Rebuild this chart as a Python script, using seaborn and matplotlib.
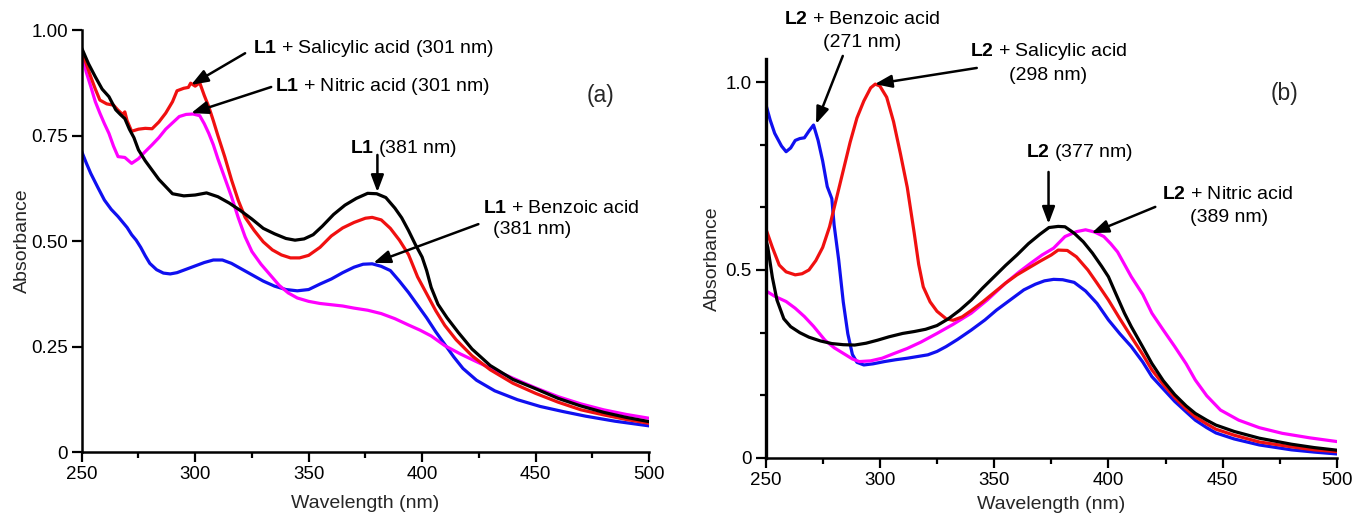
import matplotlib
matplotlib.use("Agg")
import matplotlib.pyplot as plt
from matplotlib.ticker import FixedLocator, FixedFormatter, MultipleLocator
import numpy as np
import pandas as pd
import seaborn as sns

# ---------------- panel (a): L1 spectra ----------------
wl_l1 = [250, 253, 256, 259, 262, 265, 267, 269, 271, 273, 275, 278, 281, 284, 287, 290, 295, 300,
         305, 310, 315, 320, 325, 330, 335, 340, 344, 348, 352, 356, 361, 366, 371, 376, 380, 384,
         388, 391, 394, 397, 400, 402, 404, 407, 411, 416, 422, 430, 440, 450, 460, 470, 480, 490, 500]
abs_l1 = [0.957, 0.920, 0.889, 0.860, 0.842, 0.811, 0.800, 0.790, 0.765, 0.745, 0.716, 0.690, 0.668,
          0.646, 0.629, 0.612, 0.607, 0.609, 0.614, 0.605, 0.590, 0.572, 0.552, 0.530, 0.517, 0.506,
          0.502, 0.505, 0.515, 0.535, 0.563, 0.585, 0.601, 0.613, 0.612, 0.603, 0.578, 0.555, 0.525,
          0.492, 0.462, 0.430, 0.390, 0.350, 0.318, 0.283, 0.244, 0.205, 0.172, 0.150, 0.127, 0.109,
          0.094, 0.082, 0.072]

wl_l1_sal = [250, 252, 254, 256, 258, 261, 264, 266, 268, 269, 270, 272, 275, 278, 281, 284, 287, 290,
             292, 295, 297, 298, 300, 302, 304, 306, 308, 310, 313, 316, 319, 322, 326, 330, 334, 338,
             342, 346, 350, 355, 360, 365, 370, 375, 378, 382, 386, 390, 394, 398, 402, 406, 410, 415,
             422, 430, 440, 450, 460, 470, 480, 490, 500]
abs_l1_sal = [0.952, 0.920, 0.889, 0.860, 0.834, 0.825, 0.822, 0.810, 0.800, 0.806, 0.785, 0.760, 0.765,
              0.767, 0.766, 0.782, 0.803, 0.830, 0.856, 0.862, 0.864, 0.874, 0.867, 0.875, 0.845, 0.818,
              0.785, 0.750, 0.700, 0.645, 0.596, 0.556, 0.525, 0.498, 0.479, 0.467, 0.460, 0.460, 0.466,
              0.485, 0.512, 0.531, 0.544, 0.554, 0.556, 0.550, 0.530, 0.502, 0.468, 0.415, 0.375, 0.335,
              0.300, 0.266, 0.228, 0.195, 0.163, 0.139, 0.118, 0.100, 0.088, 0.077, 0.068]

wl_l1_nit = [250, 252, 254, 256, 258, 260, 262, 264, 266, 269, 272, 275, 278, 281, 284, 287, 290, 293,
             296, 299, 302, 304, 306, 308, 310, 313, 316, 319, 322, 325, 329, 333, 337, 341, 345, 350,
             355, 360, 365, 370, 376, 382, 388, 394, 399, 404, 410, 417, 424, 432, 440, 450, 460, 470,
             480, 490, 500]
abs_l1_nit = [0.945, 0.900, 0.866, 0.830, 0.803, 0.778, 0.755, 0.725, 0.700, 0.698, 0.684, 0.695, 0.712,
              0.728, 0.745, 0.765, 0.780, 0.795, 0.800, 0.801, 0.797, 0.778, 0.755, 0.728, 0.695, 0.650,
              0.605, 0.555, 0.510, 0.475, 0.445, 0.420, 0.395, 0.377, 0.365, 0.357, 0.352, 0.349, 0.346,
              0.341, 0.336, 0.328, 0.316, 0.301, 0.289, 0.275, 0.252, 0.232, 0.214, 0.194, 0.175, 0.152,
              0.131, 0.114, 0.100, 0.089, 0.080]

wl_l1_ben = [250, 252, 254, 257, 260, 263, 266, 268, 270, 272, 274, 276, 278, 280, 283, 286, 289, 292,
             296, 300, 304, 308, 312, 316, 320, 325, 330, 335, 340, 345, 350, 355, 360, 365, 370, 374,
             378, 382, 386, 390, 394, 398, 402, 406, 410, 414, 418, 424, 432, 442, 452, 462, 472, 485, 500]
abs_l1_ben = [0.712, 0.685, 0.660, 0.628, 0.597, 0.575, 0.558, 0.545, 0.532, 0.515, 0.502, 0.485, 0.465,
              0.447, 0.432, 0.424, 0.422, 0.425, 0.433, 0.441, 0.449, 0.455, 0.455, 0.447, 0.435, 0.420,
              0.405, 0.393, 0.385, 0.382, 0.385, 0.398, 0.410, 0.425, 0.438, 0.445, 0.446, 0.440, 0.430,
              0.405, 0.378, 0.348, 0.318, 0.285, 0.255, 0.225, 0.198, 0.170, 0.145, 0.124, 0.108, 0.096,
              0.085, 0.073, 0.062]

# ---------------- panel (b): L2 spectra ----------------
wl_l2 = [250, 251, 253, 255, 258, 261, 265, 269, 274, 279, 284, 289, 294, 299, 304, 310, 315, 320, 325,
         330, 335, 340, 345, 350, 355, 360, 365, 370, 374, 378, 381, 385, 389, 393, 397, 400, 403, 407,
         410, 415, 419, 424, 429, 434, 438, 443, 447, 455, 466, 480, 490, 500]
abs_l2 = [0.585, 0.560, 0.480, 0.420, 0.370, 0.349, 0.333, 0.321, 0.311, 0.304, 0.301, 0.300, 0.305,
          0.313, 0.322, 0.331, 0.336, 0.342, 0.352, 0.370, 0.393, 0.420, 0.452, 0.482, 0.512, 0.540,
          0.570, 0.595, 0.613, 0.616, 0.615, 0.598, 0.575, 0.545, 0.510, 0.482, 0.440, 0.385, 0.349,
          0.295, 0.251, 0.205, 0.168, 0.138, 0.118, 0.100, 0.087, 0.070, 0.052, 0.036, 0.027, 0.020]

wl_l2_sal = [250, 253, 256, 259, 263, 266, 269, 272, 275, 278, 281, 284, 287, 290, 293, 296, 298, 300,
             303, 306, 309, 312, 315, 317, 319, 322, 325, 329, 332, 336, 340, 345, 350, 355, 360, 365,
             370, 375, 378, 382, 386, 391, 395, 400, 405, 410, 415, 419, 424, 429, 434, 438, 443, 447,
             455, 466, 480, 490, 500]
abs_l2_sal = [0.612, 0.560, 0.513, 0.495, 0.487, 0.490, 0.500, 0.525, 0.560, 0.615, 0.690, 0.765, 0.840,
              0.905, 0.950, 0.985, 0.995, 0.990, 0.960, 0.895, 0.810, 0.720, 0.600, 0.515, 0.455, 0.415,
              0.390, 0.370, 0.366, 0.375, 0.392, 0.415, 0.440, 0.465, 0.487, 0.505, 0.523, 0.540, 0.553,
              0.552, 0.535, 0.500, 0.465, 0.420, 0.370, 0.322, 0.275, 0.234, 0.195, 0.160, 0.130, 0.109,
              0.090, 0.076, 0.060, 0.042, 0.029, 0.021, 0.016]

wl_l2_ben = [250, 252, 254, 257, 259, 261, 263, 265, 267, 269, 271, 273, 275, 277, 279, 280, 282, 284,
             286, 288, 290, 293, 297, 302, 307, 312, 317, 321, 325, 329, 334, 340, 346, 351, 357, 363,
             368, 372, 376, 380, 385, 390, 395, 400, 405, 410, 415, 419, 424, 429, 434, 438, 443, 447,
             455, 466, 480, 490, 500]
abs_l2_ben = [0.944, 0.900, 0.864, 0.830, 0.815, 0.825, 0.845, 0.850, 0.852, 0.870, 0.886, 0.845, 0.790,
              0.722, 0.690, 0.620, 0.527, 0.415, 0.330, 0.275, 0.254, 0.247, 0.250, 0.256, 0.261, 0.265,
              0.270, 0.274, 0.283, 0.296, 0.315, 0.340, 0.367, 0.393, 0.420, 0.447, 0.462, 0.471, 0.475,
              0.474, 0.467, 0.444, 0.411, 0.367, 0.330, 0.296, 0.255, 0.216, 0.183, 0.150, 0.122, 0.100,
              0.080, 0.066, 0.050, 0.034, 0.021, 0.015, 0.010]

wl_l2_nit = [250, 254, 259, 263, 267, 271, 276, 280, 284, 288, 291, 296, 301, 306, 312, 318, 325, 332,
             340, 347, 355, 361, 366, 371, 376, 381, 386, 390, 394, 398, 401, 404, 407, 410, 415, 419,
             424, 429, 434, 438, 443, 449, 457, 466, 476, 488, 500]
abs_l2_nit = [0.445, 0.430, 0.416, 0.398, 0.376, 0.350, 0.313, 0.293, 0.278, 0.263, 0.256, 0.258, 0.265,
              0.277, 0.291, 0.308, 0.331, 0.355, 0.385, 0.420, 0.465, 0.495, 0.518, 0.540, 0.558, 0.589,
              0.602, 0.607, 0.601, 0.589, 0.570, 0.548, 0.515, 0.482, 0.435, 0.385, 0.340, 0.296, 0.250,
              0.207, 0.165, 0.127, 0.100, 0.080, 0.065, 0.053, 0.043]

series_a = ["L1", "L1 + Salicylic acid", "L1 + Nitric acid", "L1 + Benzoic acid"]
series_b = ["L2", "L2 + Salicylic acid", "L2 + Benzoic acid", "L2 + Nitric acid"]
yticks_a = [0, 0.25, 0.50, 0.75, 1.00]
yticklabels_a = ["0", "0.25", "0.50", "0.75", "1.00"]
yticks_b = [0, 0.5, 1.0]
yticklabels_b = ["0", "0.5", "1.0"]
xticks = [250, 300, 350, 400, 450, 500]


def long_table(names, pairs):
    frames = []
    for name, (wl, ab) in zip(names, pairs):
        frames.append(pd.DataFrame({"Wavelength": wl, "Absorbance": ab, "Sample": name}))
    return pd.concat(frames, ignore_index=True)


df_a = long_table(series_a, [(wl_l1, abs_l1), (wl_l1_sal, abs_l1_sal),
                             (wl_l1_nit, abs_l1_nit), (wl_l1_ben, abs_l1_ben)])
df_b = long_table(series_b, [(wl_l2, abs_l2), (wl_l2_sal, abs_l2_sal),
                             (wl_l2_ben, abs_l2_ben), (wl_l2_nit, abs_l2_nit)])

sns.set_theme(style="ticks")
plt.rcParams["font.family"] = ["Liberation Sans", "DejaVu Sans"]
plt.rcParams["mathtext.fontset"] = "custom"
plt.rcParams["mathtext.rm"] = "Liberation Sans"
plt.rcParams["mathtext.bf"] = "Liberation Sans:bold"

BLACK, RED, MAGENTA, BLUE = "#000000", "#f01010", "#ff00ff", "#1010f0"
pal_a = {series_a[0]: BLACK, series_a[1]: RED, series_a[2]: MAGENTA, series_a[3]: BLUE}
pal_b = {series_b[0]: BLACK, series_b[1]: RED, series_b[2]: BLUE, series_b[3]: MAGENTA}

fig = plt.figure(figsize=(13.53, 5.14), dpi=100)
ax_a = fig.add_axes([0.0604, 0.1206, 0.4193, 0.8210])
ax_b = fig.add_axes([0.5658, 0.1095, 0.4224, 0.7751])

sns.lineplot(data=df_a, x="Wavelength", y="Absorbance", hue="Sample", palette=pal_a,
             hue_order=[series_a[3], series_a[2], series_a[1], series_a[0]],
             estimator=None, sort=False, linewidth=2.3, legend=False, ax=ax_a)
sns.lineplot(data=df_b, x="Wavelength", y="Absorbance", hue="Sample", palette=pal_b,
             hue_order=[series_b[2], series_b[3], series_b[1], series_b[0]],
             estimator=None, sort=False, linewidth=2.3, legend=False, ax=ax_b)

TXT = 14
for ax, ylim in ((ax_a, (0, 1.0)), (ax_b, (0, 1.061))):
    ax.set_xlim(250, 500)
    ax.set_ylim(*ylim)
    ax.set_xticks(xticks)
    ax.xaxis.set_minor_locator(MultipleLocator(25))
    ax.tick_params(which="major", direction="out", length=7, width=1.6, labelsize=13.5,
                   color="black", labelcolor="black", pad=3)
    ax.tick_params(which="minor", direction="out", length=4, width=1.6, color="black")
    for side in ("top", "right"):
        ax.spines[side].set_visible(False)
    for side in ("left", "bottom"):
        ax.spines[side].set_linewidth(1.8)
        ax.spines[side].set_color("black")
    ax.set_facecolor("white")

ax_a.set_xlabel("Wavelength (nm)", fontsize=TXT, labelpad=9)
ax_b.set_xlabel("Wavelength (nm)", fontsize=TXT, labelpad=5)
ax_a.set_ylabel("Absorbance", fontsize=TXT, labelpad=0)
ax_b.set_ylabel("Absorbance", fontsize=TXT, labelpad=3)

ax_a.yaxis.set_major_locator(FixedLocator(yticks_a))
ax_a.yaxis.set_major_formatter(FixedFormatter(yticklabels_a))
ax_b.yaxis.set_major_locator(FixedLocator(yticks_b))
ax_b.yaxis.set_major_formatter(FixedFormatter(yticklabels_b))
ax_b.yaxis.set_minor_locator(FixedLocator([1 / 6, 2 / 6, 4 / 6, 5 / 6]))
ax_b.spines["left"].set_linewidth(2.4)

ARROW = dict(arrowstyle="-|>,head_length=0.85,head_width=0.32", color="black", lw=1.8,
             mutation_scale=12, shrinkA=0, shrinkB=0)


def arrow(ax, tail, head):
    ax.annotate("", xy=head, xytext=tail, xycoords="data", textcoords="data",
                arrowprops=ARROW, annotation_clip=False)


def label(ax, x, y, s, ha="left"):
    ax.text(x, y, s, fontsize=TXT, ha=ha, va="center", color="black", clip_on=False)


# annotations, panel (a)
label(ax_a, 325.6, 0.957, r"$\mathbf{L1}$ + Salicylic acid (301 nm)")
arrow(ax_a, (322.0, 0.945), (298.2, 0.870))
label(ax_a, 335.3, 0.865, r"$\mathbf{L1}$ + Nitric acid (301 nm)")
arrow(ax_a, (333.5, 0.865), (298.2, 0.803))
label(ax_a, 368.3, 0.720, r"$\mathbf{L1}$ (381 nm)")
arrow(ax_a, (380.3, 0.704), (380.3, 0.616))
label(ax_a, 427.0, 0.578, r"$\mathbf{L1}$ + Benzoic acid")
label(ax_a, 431.4, 0.528, "(381 nm)")
arrow(ax_a, (424.8, 0.540), (378.5, 0.448))
ax_a.text(478.6, 0.846, "(a)", fontsize=16.5, ha="center", va="center")

# annotations, panel (b)
label(ax_b, 292.1, 1.166, r"$\mathbf{L2}$ + Benzoic acid", ha="center")
label(ax_b, 292.1, 1.105, "(271 nm)", ha="center")
arrow(ax_b, (283.8, 1.070), (272.1, 0.889))
label(ax_b, 373.8, 1.081, r"$\mathbf{L2}$ + Salicylic acid", ha="center")
label(ax_b, 373.8, 1.019, "(298 nm)", ha="center")
arrow(ax_b, (342.4, 1.038), (297.8, 0.995))
label(ax_b, 363.8, 0.814, r"$\mathbf{L2}$ (377 nm)")
arrow(ax_b, (373.8, 0.761), (373.8, 0.623))
label(ax_b, 452.0, 0.700, r"$\mathbf{L2}$ + Nitric acid", ha="center")
label(ax_b, 452.8, 0.639, "(389 nm)", ha="center")
arrow(ax_b, (420.5, 0.668), (392.6, 0.598))
ax_b.text(476.9, 0.971, "(b)", fontsize=16.5, ha="center", va="center")

fig.savefig("out.png", dpi=100, facecolor="white")
